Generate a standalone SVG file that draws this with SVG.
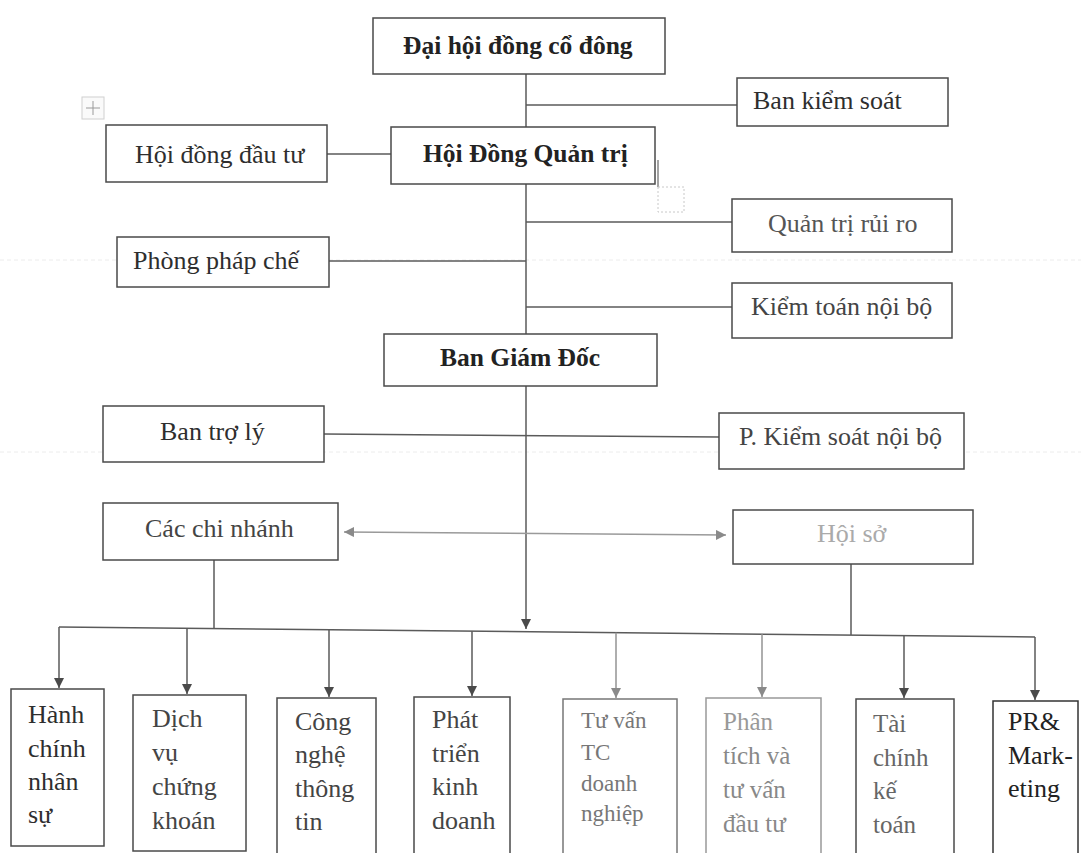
<svg xmlns="http://www.w3.org/2000/svg" width="1081" height="853" viewBox="0 0 1081 853">
<style>
.bx{fill:#fff;stroke:#4a4a4a;stroke-width:1.5}
.t{font-family:"Liberation Serif","DejaVu Serif",serif;font-size:26px;fill:#2e2e2e}
.b{font-weight:bold;font-size:25.5px;fill:#222}
.ln{stroke:#5a5a5a;stroke-width:1.5;fill:none}
.lt{stroke:#9a9a9a;stroke-width:1.6;fill:none}
.pg{stroke:#ececec;stroke-width:1;stroke-dasharray:4 3;fill:none}
</style>
<defs>
<marker id="ah" viewBox="0 0 10 10" refX="10" refY="5" markerWidth="10" markerHeight="10" markerUnits="userSpaceOnUse" orient="auto">
<path d="M0,0 L10,5 L0,10 z" fill="#4a4a4a"/>
</marker>
<marker id="ahl" viewBox="0 0 10 10" refX="10" refY="5" markerWidth="10" markerHeight="10" markerUnits="userSpaceOnUse" orient="auto-start-reverse">
<path d="M0,0 L10,5 L0,10 z" fill="#8a8a8a"/>
</marker>
</defs>
<rect width="1081" height="853" fill="#fff"/>
<g id="page-marks">
<line class="pg" x1="0" y1="260" x2="1081" y2="260"/>
<line class="pg" x1="0" y1="452" x2="1081" y2="452"/>
<rect x="82" y="97" width="22" height="22" fill="#fafafa" stroke="#d0d0d0" stroke-width="1"/>
<path d="M93,101 V115 M86,108 H100" stroke="#9a9a9a" stroke-width="1" fill="none"/>
<line x1="658" y1="160" x2="658" y2="187" stroke="#666" stroke-width="1.2"/>
<rect x="658" y="187" width="26" height="25" fill="none" stroke="#c8c8c8" stroke-width="1" stroke-dasharray="2 2"/>
</g>
<g id="connectors">
<line class="ln" x1="526" y1="74" x2="526" y2="127"/>
<line class="ln" x1="526" y1="184" x2="526" y2="334"/>
<line class="ln" x1="526" y1="386" x2="526" y2="629" marker-end="url(#ah)"/>
<line class="ln" x1="526" y1="105" x2="737" y2="105"/>
<line class="ln" x1="327" y1="154" x2="391" y2="154"/>
<line class="ln" x1="526" y1="222" x2="732" y2="222"/>
<line class="ln" x1="329" y1="261" x2="526" y2="261"/>
<line class="ln" x1="526" y1="307" x2="732" y2="307"/>
<line class="ln" x1="324" y1="434" x2="719" y2="437"/>
<line class="lt" x1="344" y1="532" x2="726" y2="535" marker-start="url(#ahl)" marker-end="url(#ahl)"/>
<line class="ln" x1="214" y1="560" x2="214" y2="628.5"/>
<line class="ln" x1="851" y1="564" x2="851" y2="635"/>
<line class="ln" x1="59" y1="627" x2="1035" y2="637"/>
<line class="ln" x1="59" y1="627" x2="59" y2="688" marker-end="url(#ah)"/>
<line class="ln" x1="187" y1="628.3" x2="187" y2="694" marker-end="url(#ah)"/>
<line class="ln" x1="329" y1="629.8" x2="329" y2="697" marker-end="url(#ah)"/>
<line class="ln" x1="472" y1="631.2" x2="472" y2="696" marker-end="url(#ah)"/>
<line class="lt" x1="616" y1="632.7" x2="616" y2="698" marker-end="url(#ahl)"/>
<line class="lt" x1="762" y1="634.2" x2="762" y2="697" marker-end="url(#ahl)"/>
<line class="ln" x1="904" y1="635.7" x2="904" y2="698" marker-end="url(#ah)"/>
<line class="ln" x1="1035" y1="637" x2="1035" y2="700" marker-end="url(#ah)"/>
</g>
<g id="n-daihoi"><rect class="bx" x="373" y="18" width="292" height="56"/><text class="t b" x="403" y="54">Đại hội đồng cổ đông</text></g>
<g id="n-bankiemsoat"><rect class="bx" x="737" y="78" width="211" height="48"/><text class="t" x="753" y="109" fill="#555">Ban kiểm soát</text></g>
<g id="n-hoidongdautu"><rect class="bx" x="106" y="125" width="221" height="57"/><text class="t" x="135" y="163">Hội đồng đầu tư</text></g>
<g id="n-hdqt"><rect class="bx" x="391" y="127" width="264" height="57"/><text class="t b" x="423" y="162">Hội Đồng Quản trị</text></g>
<g id="n-quantriruiro"><rect class="bx" x="732" y="199" width="220" height="53"/><text class="t" x="768" y="232" style="fill:#555">Quản trị rủi ro</text></g>
<g id="n-phongphapche"><rect class="bx" x="117" y="237" width="212" height="50"/><text class="t" x="133" y="269">Phòng pháp chế</text></g>
<g id="n-kiemtoannoibo"><rect class="bx" x="732" y="283" width="220" height="55"/><text class="t" x="751" y="315" style="fill:#444">Kiểm toán nội bộ</text></g>
<g id="n-bangiamdoc"><rect class="bx" x="384" y="334" width="273" height="52"/><text class="t b" x="440" y="366">Ban Giám Đốc</text></g>
<g id="n-bantroly"><rect class="bx" x="103" y="406" width="221" height="56"/><text class="t" x="160" y="440">Ban trợ lý</text></g>
<g id="n-pkiemsoat"><rect class="bx" x="719" y="413" width="245" height="56"/><text class="t" x="739" y="445" style="fill:#444">P. Kiểm soát nội bộ</text></g>
<g id="n-cacchinhanh"><rect class="bx" x="103" y="503" width="235" height="57"/><text class="t" x="145" y="537" style="fill:#444">Các chi nhánh</text></g>
<g id="n-hoiso"><rect class="bx" x="733" y="510" width="240" height="54"/><text class="t" x="817" y="542" style="fill:#aaa">Hội sở</text></g>
<g id="n-hanhchinh"><rect class="bx" x="11" y="689" width="93" height="157"/><text class="t" x="28" y="723">Hành</text><text class="t" x="28" y="757">chính</text><text class="t" x="28" y="790">nhân</text><text class="t" x="28" y="823">sự</text></g>
<g id="n-dichvu"><rect class="bx" x="133" y="695" width="113" height="156"/><text class="t" x="152" y="727" style="fill:#444">Dịch</text><text class="t" x="152" y="761" style="fill:#444">vụ</text><text class="t" x="152" y="795" style="fill:#444">chứng</text><text class="t" x="152" y="829" style="fill:#444">khoán</text></g>
<g id="n-congnghe"><rect class="bx" x="277" y="698" width="99" height="162"/><text class="t" x="295" y="730" style="fill:#444">Công</text><text class="t" x="295" y="763" style="fill:#444">nghệ</text><text class="t" x="295" y="797" style="fill:#444">thông</text><text class="t" x="295" y="830" style="fill:#444">tin</text></g>
<g id="n-phattrien"><rect class="bx" x="414" y="697" width="96" height="163"/><text class="t" x="432" y="728" style="fill:#444">Phát</text><text class="t" x="432" y="762" style="fill:#444">triển</text><text class="t" x="432" y="795" style="fill:#444">kinh</text><text class="t" x="432" y="829" style="fill:#444">doanh</text></g>
<g id="n-tuvan"><rect class="bx" x="563" y="699" width="114" height="161" style="stroke:#777"/><text class="t" x="581" y="728" style="font-size:23px;fill:#777">Tư vấn</text><text class="t" x="581" y="760" style="font-size:23px;fill:#777">TC</text><text class="t" x="581" y="791" style="font-size:23px;fill:#777">doanh</text><text class="t" x="581" y="821" style="font-size:23px;fill:#777">nghiệp</text></g>
<g id="n-phantich"><rect class="bx" x="706" y="698" width="115" height="162" style="stroke:#999"/><text class="t" x="723" y="730" style="font-size:25px;fill:#999">Phân</text><text class="t" x="723" y="764" style="font-size:25px;fill:#888">tích và</text><text class="t" x="723" y="798" style="font-size:25px;fill:#888">tư vấn</text><text class="t" x="723" y="832" style="font-size:25px;fill:#888">đầu tư</text></g>
<g id="n-taichinh"><rect class="bx" x="856" y="699" width="98" height="161"/><text class="t" x="873" y="732" style="font-size:25px;fill:#666">Tài</text><text class="t" x="873" y="766" style="font-size:25px;fill:#666">chính</text><text class="t" x="873" y="799" style="font-size:25px;fill:#666">kế</text><text class="t" x="873" y="833" style="font-size:25px;fill:#666">toán</text></g>
<g id="n-pr"><rect class="bx" x="993" y="701" width="85" height="159" style="stroke:#333"/><text class="t" x="1008" y="730" style="fill:#222">PR&amp;</text><text class="t" x="1008" y="764" style="fill:#222">Mark-</text><text class="t" x="1008" y="797" style="fill:#222">eting</text></g>
</svg>
